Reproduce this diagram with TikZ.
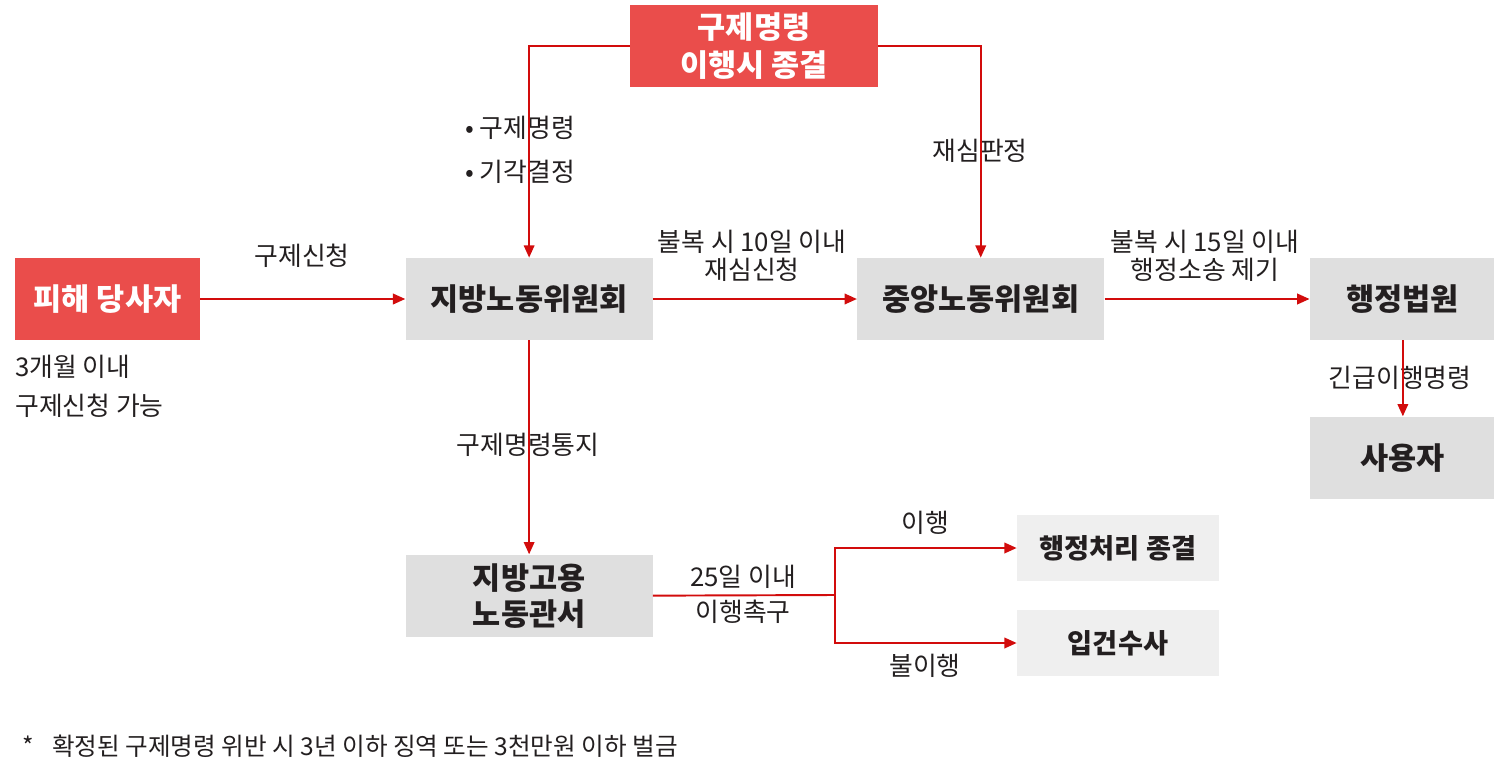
\documentclass[tikz,border=0pt]{standalone}
\usepackage{fontspec}
\setmainfont{Noto Sans CJK KR}
\usetikzlibrary{arrows.meta, positioning}

\definecolor{boxred}{HTML}{EA4D4B}
\definecolor{boxgray}{HTML}{DFDFDF}
\definecolor{boxlight}{HTML}{EFEFEF}
\definecolor{linered}{HTML}{D20C0C}
\definecolor{textdark}{HTML}{231F20}

\begin{document}
\begin{tikzpicture}[x=0.02cm, y=-0.02cm, >={Triangle[length=7pt,width=6pt]}, text=textdark]
    % Style definitions
    \tikzset{redbox/.style={fill=boxred, text=white, rectangle, minimum height=1.64cm, align=center, font=\bfseries\fontsize{17.4}{21.5}\selectfont}}
    \tikzset{graybox/.style={fill=boxgray, rectangle, minimum height=1.64cm, minimum width=4.94cm, align=center, font=\bfseries\fontsize{17.4}{20.5}\selectfont}}
    \tikzset{lightbox/.style={fill=boxlight, rectangle, minimum height=1.32cm, minimum width=4.04cm, align=center, font=\bfseries\fontsize{15.5}{18}\selectfont}}
    \tikzset{lbl/.style={font=\fontsize{14.7}{17}\selectfont, align=center, inner sep=0pt}}
    \tikzset{wire/.style={linered, line width=1.1pt}}
    \tikzset{arrow/.style={wire, ->}}

    \useasboundingbox (0,0) rectangle (1494,777);

    % Nodes
    \node [redbox, minimum width=4.96cm] (ended) at (754,46) {구제명령\\이행시 종결};
    \node [redbox, minimum width=3.7cm] (victim) at (107.5,299) {피해 당사자};
    \node [graybox, right=4.1cm of victim] (local) {지방노동위원회};
    \node [graybox, right=4.08cm of local] (central) {중앙노동위원회};
    \node [graybox, minimum width=3.72cm, right=4.1cm of central] (court) {행정법원};
    \node [graybox, minimum width=3.72cm, below=1.52cm of court] (employer) {사용자};
    \node [graybox, below=4.28cm of local] (office) {지방고용\\노동관서};
    \node [lightbox] (closed) at (1118,548) {행정처리 종결};
    \node [lightbox] (probe) at (1118,643) {입건수사};
    \coordinate (split) at (835,595);

    % Labels
    \node [lbl] (applyl) at (302,256) {구제신청};
    \node [lbl, anchor=west] (term1) at (15,367) {3개월 이내};
    \node [lbl, anchor=west] (term2) at (15,406) {구제신청 가능};
    \node [lbl, anchor=west] (order1) at (465,128) {• 구제명령};
    \node [lbl, anchor=west] (order2) at (465,172) {• 기각결정};
    \node [lbl] (review) at (980,151) {재심판정};
    \node [lbl] (appeal1) at (752,242) {불복 시 10일 이내};
    \node [lbl] (appeal2) at (752,270) {재심신청};
    \node [lbl] (suit1) at (1205,242) {불복 시 15일 이내};
    \node [lbl] (suit2) at (1205,270) {행정소송 제기};
    \node [lbl] (notice) at (528,445) {구제명령통지};
    \node [lbl] (urgent) at (1400,378) {긴급이행명령};
    \node [lbl] (days) at (743,577) {25일 이내};
    \node [lbl] (urge) at (743,612) {이행촉구};
    \node [lbl] (comply) at (925,523) {이행};
    \node [lbl] (nocomply) at (925,666) {불이행};
    \node [lbl, anchor=west, font=\fontsize{14}{16}\selectfont] (note) at (22,746) {*\hspace{0.75em}확정된 구제명령 위반 시 3년 이하 징역 또는 3천만원 이하 벌금};

    % Arrows
    \draw [arrow] (ended.west) -| (local.north);
    \draw [arrow] (ended.east) -| (central.north);
    \draw [arrow] (victim) -- (local);
    \draw [arrow] (local) -- (central);
    \draw [arrow] (central) -- (court);
    \draw [arrow] (court) -- (employer);
    \draw [arrow] (local) -- (office);
    \draw [wire] (office.east) -- (split);
    \draw [arrow] (split) |- (closed.west);
    \draw [arrow] (split) |- (probe.west);
\end{tikzpicture}
\end{document}
